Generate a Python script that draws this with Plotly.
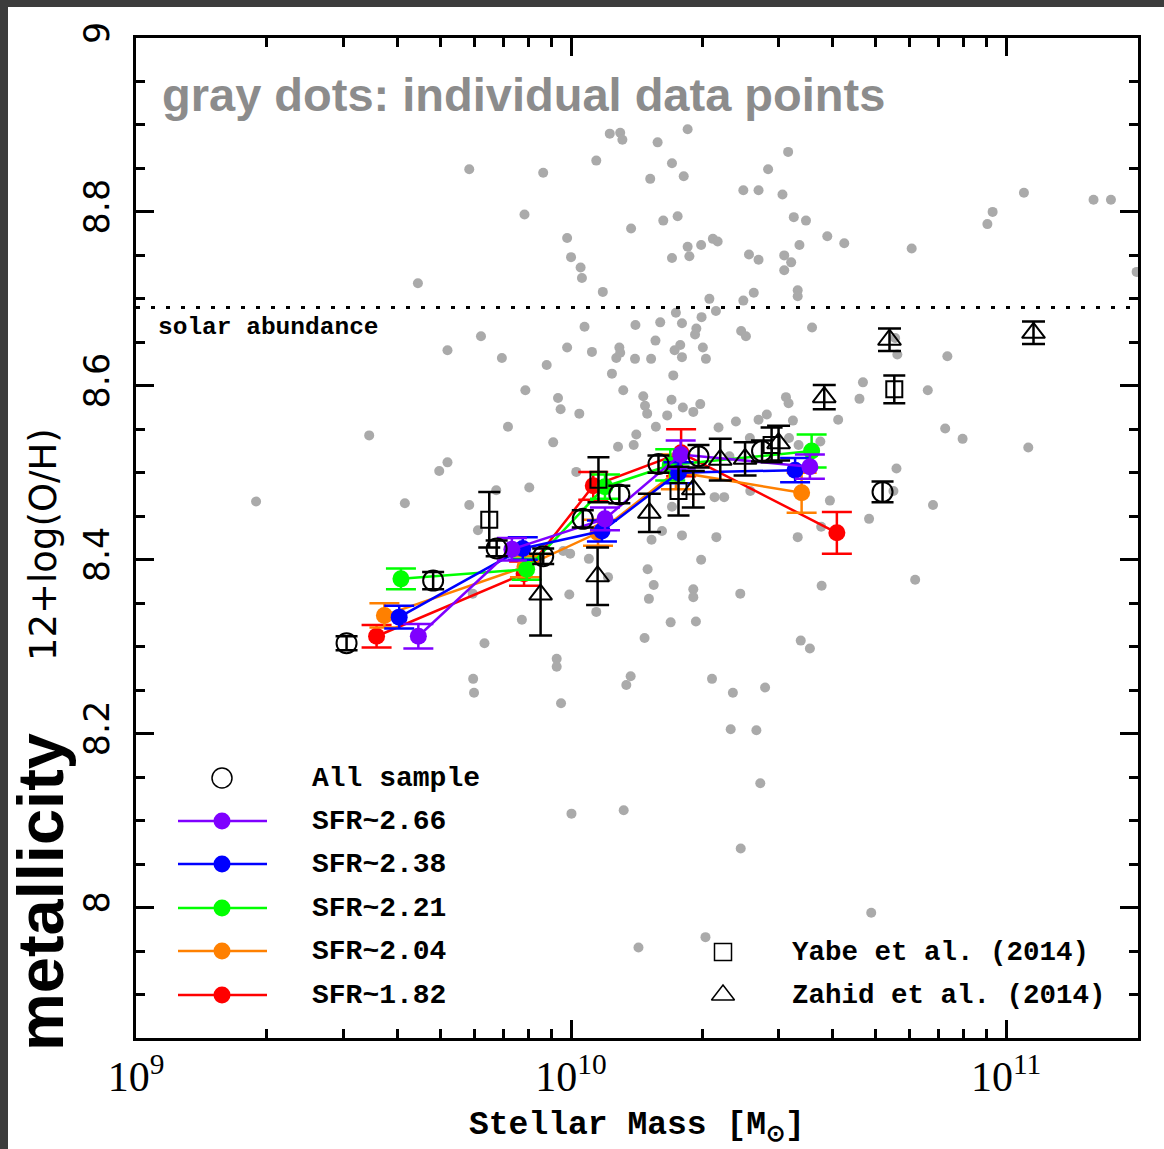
import numpy as np
import plotly.graph_objects as go

# ---------------- data ----------------
# individual galaxies (gray dots): log10 stellar mass, 12+log(O/H)
gray_logm = [9.766, 9.936, 9.893, 10.058, 10.089, 10.113, 10.118, 10.199, 10.268, 10.232, 10.259, 10.182,
             10.499, 10.453, 10.396, 10.431, 10.486, 10.245, 10.212, 10.138, 10.512, 10.540, 10.589, 10.628,
             10.525, 9.991, 10.000, 10.022, 10.025, 10.073, 10.268, 10.299, 10.326, 10.337, 10.232, 10.272,
             10.409, 10.431, 10.490, 10.506, 10.490, 10.521, 10.521, 10.420, 10.396, 10.318, 10.333, 10.300,
             10.241, 10.255, 10.205, 10.148, 10.031, 9.793, 9.716, 9.841, 9.944, 9.991, 10.048, 10.111,
             10.104, 10.113, 10.147, 10.184, 10.194, 10.251, 10.238, 10.255, 10.288, 10.285, 10.303, 10.310,
             10.391, 10.402, 10.554, 10.235, 10.094, 9.895, 9.970, 9.976, 10.019, 10.120, 10.166, 10.170,
             10.175, 10.221, 10.231, 10.257, 10.281, 10.297, 10.494, 10.500, 10.671, 10.663, 10.614, 10.510,
             10.450, 10.431, 10.379, 10.339, 10.195, 10.150, 10.144, 10.108, 9.959, 9.855, 9.716, 9.697,
             9.766, 9.904, 9.828, 9.786, 10.232, 10.330, 10.352, 10.412, 10.595, 10.685, 10.575, 10.521,
             10.334, 10.255, 10.209, 10.185, 10.012, 9.982, 9.998, 10.299, 10.364, 10.573, 10.501, 10.411,
             10.523, 9.648,
             10.176, 10.190, 10.179, 10.281, 10.281, 10.389, 10.576, 10.229, 10.287, 10.169, 10.528, 10.549,
             10.058, 10.085, 10.041, 9.996, 9.887, 9.801, 9.774, 9.967, 9.967, 9.775, 9.777, 9.977,
             10.137, 10.127, 10.324, 10.372, 10.446, 10.367, 10.426, 10.435, 10.001, 10.121, 10.390, 10.690,
             10.309, 10.155,
             9.276, 9.536, 9.618, 10.783, 10.957, 10.969, 11.041, 11.201, 11.241, 11.300, 10.745, 10.750,
             10.865, 10.820, 10.860, 10.900, 11.051, 10.748, 10.741, 10.832, 10.791]
gray_z = [8.849, 8.845, 8.797, 8.859, 8.890, 8.891, 8.883, 8.880, 8.895, 8.856, 8.841, 8.838,
          8.869, 8.849, 8.825, 8.825, 8.820, 8.795, 8.790, 8.781, 8.794, 8.790, 8.772, 8.764,
          8.762, 8.770, 8.748, 8.736, 8.724, 8.708, 8.760, 8.762, 8.769, 8.766, 8.747, 8.749,
          8.751, 8.745, 8.750, 8.742, 8.733, 8.710, 8.703, 8.707, 8.698, 8.700, 8.686, 8.679,
          8.684, 8.672, 8.673, 8.670, 8.668, 8.657, 8.641, 8.632, 8.624, 8.644, 8.639, 8.644,
          8.632, 8.638, 8.631, 8.631, 8.652, 8.647, 8.641, 8.633, 8.666, 8.659, 8.644, 8.631,
          8.663, 8.657, 8.667, 8.612, 8.614, 8.595, 8.586, 8.573, 8.568, 8.595, 8.588, 8.577,
          8.568, 8.566, 8.584, 8.575, 8.570, 8.579, 8.587, 8.580, 8.604, 8.585, 8.561, 8.560,
          8.567, 8.561, 8.559, 8.552, 8.553, 8.544, 8.532, 8.530, 8.535, 8.553, 8.512, 8.502,
          8.463, 8.483, 8.480, 8.434, 8.461, 8.472, 8.472, 8.479, 8.468, 8.447, 8.438, 8.426,
          8.426, 8.428, 8.433, 8.423, 8.501, 8.410, 8.407, 8.400, 8.519, 8.536, 8.540, 8.540,
          8.532, 8.718,
          8.389, 8.371, 8.355, 8.366, 8.357, 8.361, 8.370, 8.328, 8.329, 8.310, 8.307, 8.298,
          8.340, 8.380, 8.401, 8.360, 8.331, 8.304, 8.361, 8.286, 8.277, 8.263, 8.247, 8.235,
          8.266, 8.256, 8.263, 8.247, 8.253, 8.205, 8.204, 8.143, 8.108, 8.112, 8.068, 7.994,
          7.966, 7.954,
          8.467, 8.543, 8.465, 8.758, 8.786, 8.800, 8.822, 8.814, 8.814, 8.731, 8.655, 8.636,
          8.634, 8.595, 8.551, 8.539, 8.529, 8.505, 8.479, 8.463, 8.377]

# All sample (stacked)
all_logm = [9.484, 9.683, 9.829, 9.936, 10.027, 10.111, 10.201, 10.293, 10.439, 10.716]
all_z = [8.304, 8.376, 8.413, 8.404, 8.447, 8.475, 8.510, 8.519, 8.525, 8.478]
all_err = [0.008, 0.010, 0.009, 0.009, 0.010, 0.010, 0.010, 0.013, 0.012, 0.012]

# Yabe et al. (2014)
yabe_logm = [9.812, 10.063, 10.247, 10.461, 10.743]
yabe_z = [8.446, 8.492, 8.479, 8.532, 8.596]
yabe_err = [0.032, 0.026, 0.028, 0.020, 0.016]

# Zahid et al. (2014)
zahid_logm = [9.930, 10.061, 10.180, 10.281, 10.343, 10.400, 10.477, 10.582, 10.732, 11.063]
zahid_z = [8.360, 8.381, 8.454, 8.481, 8.515, 8.516, 8.534, 8.587, 8.653, 8.661]
zahid_err = [0.047, 0.033, 0.022, 0.021, 0.024, 0.019, 0.020, 0.014, 0.013, 0.013]

# SFR bins
sfr_labels = ["SFR~2.66", "SFR~2.38", "SFR~2.21", "SFR~2.04", "SFR~1.82"]
sfr_colors = ["#7f00ff", "#0000ff", "#00ff00", "#ff8000", "#ff0000"]
purple_logm = [9.649, 9.864, 10.078, 10.252, 10.549]
purple_z = [8.312, 8.412, 8.447, 8.521, 8.507]
purple_err = [0.014, 0.013, 0.013, 0.016, 0.014]
blue_logm = [9.605, 9.889, 10.071, 10.247, 10.515]
blue_z = [8.334, 8.413, 8.433, 8.500, 8.503]
blue_err = [0.013, 0.013, 0.012, 0.012, 0.014]
green_logm = [9.609, 9.898, 10.078, 10.228, 10.553]
green_z = [8.378, 8.389, 8.484, 8.509, 8.525]
green_err = [0.012, 0.012, 0.014, 0.018, 0.019]
orange_logm = [9.571, 9.894, 10.062, 10.241, 10.530]
orange_z = [8.336, 8.392, 8.431, 8.501, 8.477]
orange_err = [0.014, 0.012, 0.015, 0.020, 0.023]
red_logm = [9.553, 9.892, 10.051, 10.253, 10.611]
red_z = [8.312, 8.384, 8.485, 8.523, 8.431]
red_err = [0.013, 0.014, 0.016, 0.027, 0.024]

SOLAR_Z = 8.69

x_tickvals = [1e9, 1e10, 1e11]
x_ticktext = ["10<sup>9</sup>", "10<sup>10</sup>", "10<sup>11</sup>"]
y_tickvals = [8.0, 8.2, 8.4, 8.6, 8.8, 9.0]
y_ticktext = ["8", "8.2", "8.4", "8.6", "8.8", "9"]

# ---------------- styling ----------------
MONO = "Liberation Mono"
SANS = "Liberation Sans"
W, H = 1164, 1149
ML, MR, MT, MB = 136, 26, 38, 111
PW, PH = W - ML - MR, H - MT - MB

fig = go.Figure()

fig.add_trace(go.Scatter(x=10 ** np.array(gray_logm), y=gray_z, mode="markers",
                         marker=dict(size=10, color="#aaaaaa"), showlegend=False, hoverinfo="skip"))

series = [
    (red_logm, red_z, red_err, sfr_colors[4]),
    (orange_logm, orange_z, orange_err, sfr_colors[3]),
    (green_logm, green_z, green_err, sfr_colors[2]),
    (blue_logm, blue_z, blue_err, sfr_colors[1]),
    (purple_logm, purple_z, purple_err, sfr_colors[0]),
]
for lm, z, e, c in series:
    fig.add_trace(go.Scatter(x=10 ** np.array(lm), y=z, mode="lines+markers",
                             line=dict(color=c, width=2.5),
                             marker=dict(size=17, color=c),
                             error_y=dict(type="data", array=e, color=c, thickness=2.5, width=15),
                             showlegend=False))

fig.add_trace(go.Scatter(x=10 ** np.array(all_logm), y=all_z, mode="markers",
                         marker=dict(symbol="circle-open", size=20, color="black", line=dict(width=2)),
                         error_y=dict(type="data", array=all_err, color="black", thickness=2.5, width=11),
                         showlegend=False))
fig.add_trace(go.Scatter(x=10 ** np.array(yabe_logm), y=yabe_z, mode="markers",
                         marker=dict(symbol="square-open", size=16, color="black", line=dict(width=2)),
                         error_y=dict(type="data", array=yabe_err, color="black", thickness=2.5, width=11),
                         showlegend=False))
fig.add_trace(go.Scatter(x=10 ** np.array(zahid_logm), y=zahid_z, mode="markers",
                         marker=dict(symbol="triangle-up-open", size=20, color="black", line=dict(width=2)),
                         error_y=dict(type="data", array=zahid_err, color="black", thickness=2.5, width=11.5),
                         showlegend=False))

# ---------------- hand-drawn legend on a pixel overlay ----------------
LEG_SYM_X, LEG_X0, LEG_X1, LEG_TXT_X = 222, 178, 267, 310
LEG_ROWS = [778, 821, 864, 908, 951, 995]
LEG2_SYM_X, LEG2_TXT_X, LEG2_ROWS = 723, 790, [952, 995]

fig.add_trace(go.Scatter(x=[LEG_SYM_X], y=[LEG_ROWS[0]], xaxis="x2", yaxis="y2", mode="markers",
                         marker=dict(symbol="circle-open", size=20, color="black", line=dict(width=1.5)),
                         showlegend=False, hoverinfo="skip"))
for i, c in enumerate(sfr_colors):
    r = LEG_ROWS[i + 1]
    fig.add_trace(go.Scatter(x=[LEG_X0, LEG_X1], y=[r, r], xaxis="x2", yaxis="y2", mode="lines",
                             line=dict(color=c, width=2.5), showlegend=False, hoverinfo="skip"))
    fig.add_trace(go.Scatter(x=[LEG_SYM_X], y=[r], xaxis="x2", yaxis="y2", mode="markers",
                             marker=dict(size=17, color=c), showlegend=False, hoverinfo="skip"))
fig.add_trace(go.Scatter(x=[LEG2_SYM_X], y=[LEG2_ROWS[0]], xaxis="x2", yaxis="y2", mode="markers",
                         marker=dict(symbol="square-open", size=17, color="black", line=dict(width=1.5)),
                         showlegend=False, hoverinfo="skip"))
fig.add_trace(go.Scatter(x=[LEG2_SYM_X], y=[LEG2_ROWS[1]], xaxis="x2", yaxis="y2", mode="markers",
                         marker=dict(symbol="triangle-up-open", size=20, color="black", line=dict(width=1.5)),
                         showlegend=False, hoverinfo="skip"))

ann = []
legfont = dict(family=MONO, size=28, color="black", weight="bold")
for txt, r in zip(["All sample"] + sfr_labels, LEG_ROWS):
    ann.append(dict(x=LEG_TXT_X, y=r, xref="x2", yref="y2", text=txt, showarrow=False,
                    xanchor="left", yanchor="middle", font=legfont))
legfont2 = dict(family=MONO, size=27.5, color="black", weight="bold")
for txt, r in zip(["Yabe et al. (2014)", "Zahid et al. (2014)"], LEG2_ROWS):
    ann.append(dict(x=LEG2_TXT_X, y=r, xref="x2", yref="y2", text=txt, showarrow=False,
                    xanchor="left", yanchor="middle", font=legfont2))
ann.append(dict(x=156, y=327, xref="x2", yref="y2", text="solar abundance", showarrow=False,
                xanchor="left", yanchor="middle",
                font=dict(family=MONO, size=24.5, color="black", weight="bold")))
ann.append(dict(x=160, y=94, xref="x2", yref="y2", text="gray dots: individual data points",
                showarrow=False, xanchor="left", yanchor="middle",
                font=dict(family=SANS, size=47, color="#8c8c8c", weight="bold")))
# outside texts (paper coords from pixels)
def px2paper(xp, yp):
    return (xp - ML) / PW, (H - MB - yp) / PH

xa, ya = px2paper(637, 1127)
ann.append(dict(x=xa, y=ya, xref="paper", yref="paper", text="Stellar Mass [M<sub>⊙</sub>]",
                showarrow=False, xanchor="center", yanchor="middle",
                font=dict(family=MONO, size=33, color="black", weight="bold")))
xa, ya = px2paper(43, 545)
ann.append(dict(x=xa, y=ya, xref="paper", yref="paper", text="12+log(O/H)", textangle=-90,
                showarrow=False, xanchor="center", yanchor="middle",
                font=dict(family="DejaVu Sans", size=37, color="black")))
xa, ya = px2paper(40, 892)
ann.append(dict(x=xa, y=ya, xref="paper", yref="paper", text="metallicity", textangle=-90,
                showarrow=False, xanchor="center", yanchor="middle",
                font=dict(family=SANS, size=65, color="black", weight="bold")))

bx0, by1 = px2paper(8, 7)
bx1, by0 = px2paper(W + 20, H + 20)
shapes = [
    dict(type="rect", xref="paper", yref="paper", x0=bx0, x1=bx1, y0=by0, y1=by1,
         fillcolor="white", line=dict(width=0), layer="below"),
    dict(type="line", xref="paper", yref="y", x0=0, x1=1, y0=SOLAR_Z, y1=SOLAR_Z,
         line=dict(color="black", width=3, dash="4px,11px")),
]

minor_x = [m * 10 ** d for d in (9, 10, 11) for m in range(2, 10) if m * 10 ** d <= 2.01e11]

axis_common = dict(showline=True, linewidth=2.5, linecolor="black", mirror="allticks",
                   ticks="inside", ticklen=18, tickwidth=2.5, tickcolor="black",
                   showgrid=False, zeroline=False)

fig.update_layout(
    width=W, height=H,
    margin=dict(l=ML, r=MR, t=MT, b=MB),
    paper_bgcolor="#3c3c3c", plot_bgcolor="white",
    showlegend=False,
    xaxis=dict(type="log", range=[9, np.log10(2.01e11)], tickmode="array",
               tickvals=x_tickvals, ticktext=x_ticktext,
               tickfont=dict(family="Liberation Serif", size=42, color="black"),
               minor=dict(tickmode="array", tickvals=minor_x, ticks="inside", ticklen=9,
                          tickwidth=2.5, tickcolor="black", showgrid=False),
               **axis_common),
    yaxis=dict(range=[7.85, 9.0], tickmode="array", tickvals=y_tickvals, ticktext=y_ticktext,
               tickangle=-90, tickfont=dict(family="DejaVu Sans", size=35, color="black"),
               ticklabelstandoff=10,
               minor=dict(dtick=0.05, tick0=8.0, ticks="inside", ticklen=9,
                          tickwidth=2.5, tickcolor="black", showgrid=False),
               **axis_common),
    xaxis2=dict(range=[ML, ML + PW], overlaying="x", anchor="y2", visible=False, fixedrange=True),
    yaxis2=dict(range=[MT + PH, MT], overlaying="y", anchor="x2", visible=False, fixedrange=True),
    shapes=shapes,
    annotations=ann,
)

fig.write_html("out.html")
